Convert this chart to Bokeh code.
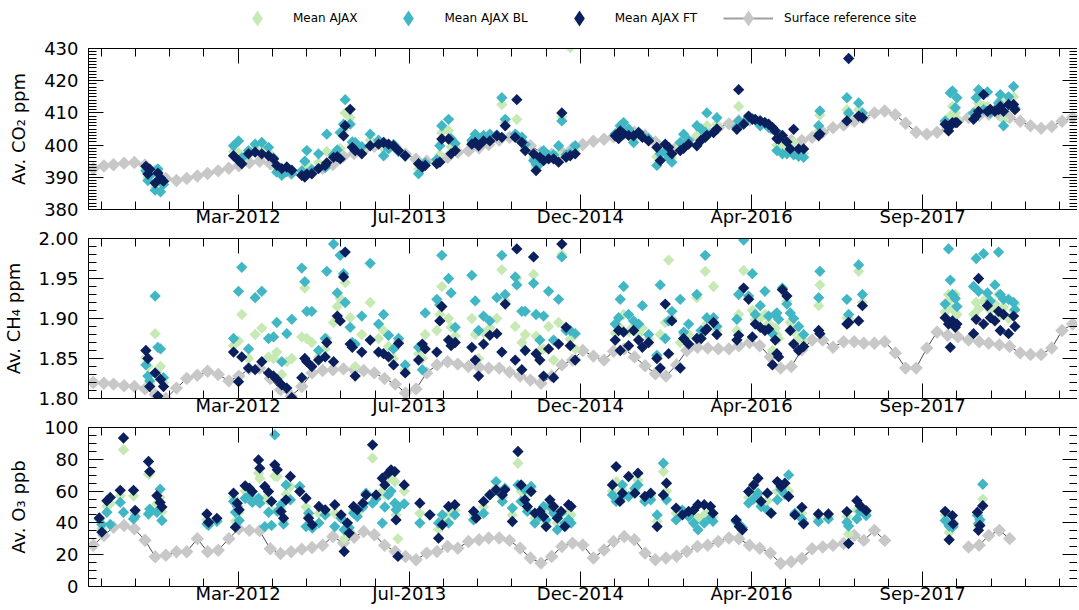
import numpy as np
import pandas as pd
from bokeh.plotting import figure
from bokeh.layouts import column
from bokeh.models import (Range1d, FixedTicker, LinearAxis, DatetimeTickFormatter,
                          PrintfTickFormatter, BasicTickFormatter, Legend, LegendItem)
from bokeh.embed import file_html
from bokeh.resources import INLINE

# ---------------- data (decimal years) ----------------
pic_dates = [
    2011.459, 2011.475, 2011.490, 2011.533, 2011.555, 2011.576, 2011.600,
    2012.160, 2012.200, 2012.226, 2012.280, 2012.333, 2012.386, 2012.440, 2012.480, 2012.506, 2012.546, 2012.586, 2012.626,
    2012.706, 2012.730, 2012.746, 2012.786, 2012.840, 2012.893, 2012.906,
    2012.960, 2012.990, 2013.013, 2013.040, 2013.053, 2013.093, 2013.110, 2013.133, 2013.186, 2013.253, 2013.320, 2013.360, 2013.400, 2013.440, 2013.480, 2013.533,
    2013.640, 2013.670, 2013.693, 2013.786, 2013.810, 2013.826, 2013.880, 2013.900, 2013.933,
    2014.066, 2014.093, 2014.120, 2014.160, 2014.210, 2014.266, 2014.306, 2014.333, 2014.413, 2014.426, 2014.466, 2014.493, 2014.560, 2014.580, 2014.610, 2014.640, 2014.680, 2014.720, 2014.760, 2014.786, 2014.820, 2014.853, 2014.893,
    2015.213, 2015.240, 2015.253, 2015.280, 2015.320, 2015.360, 2015.400, 2015.430, 2015.480,
    2015.546, 2015.573, 2015.613, 2015.640, 2015.666, 2015.733, 2015.760, 2015.800, 2015.866, 2015.900, 2015.933, 2015.946, 2015.999, 2016.026,
    2016.186, 2016.200, 2016.240, 2016.280, 2016.310, 2016.333, 2016.373, 2016.410, 2016.440, 2016.470, 2016.493, 2016.506, 2016.520, 2016.550, 2016.586, 2016.613, 2016.640, 2016.680, 2016.720,
    2016.840, 2016.850, 2017.066, 2017.080, 2017.160, 2017.190,
    2017.852, 2017.879, 2017.893, 2017.910, 2017.933, 2017.946,
    2018.079, 2018.100, 2018.119, 2018.159, 2018.190, 2018.213, 2018.250, 2018.279, 2018.293, 2018.319, 2018.359, 2018.399, 2018.410]

co2_ft = [
    393.4, 391.0, 392.5, 388.2, 391.3, 389.8, 388.8,
    396.7, 395.2, 394.2, 397.3, 397.8, 397.3, 396.7, 395.7, 393.7, 392.7, 393.2, 392.2,
    390.6, 390.1, 391.0, 391.1, 392.7, 393.7, 394.5,
    396.2, 396.4, 395.7, 402.9, 406.0, 411.1, 399.3, 398.3, 397.3, 399.8, 400.3, 400.8, 400.3, 399.8, 398.3, 396.7,
    394.2, 393.2, 393.7, 394.2, 394.7, 401.9, 401.9, 397.3, 398.3,
    400.3, 400.8, 399.8, 401.3, 401.3, 402.9, 402.4, 406.0, 402.4, 414.1, 400.8, 398.3, 397.3, 392.1, 396.2, 395.2, 395.7, 395.7, 394.7, 410.0, 396.2, 396.7, 397.3,
    402.9, 402.0, 404.4, 403.5, 403.0, 402.9, 403.9, 402.4, 401.3,
    399.3, 395.2, 400.3, 399.3, 397.3, 398.3, 399.0, 400.3, 399.8, 401.5, 402.4, 403.0, 403.9, 405.0,
    404.9, 417.2, 406.5, 409.0, 408.0, 408.0, 407.5, 407.0, 406.5, 405.5, 404.4, 402.0, 401.9, 403.0, 401.0, 398.8, 404.9, 398.8, 398.8,
    402.9, 403.5, 407.5, 426.9, 409.0, 408.5,
    406.5, 404.4, 406.0, 407.0, 407.0, 407.0,
    408.0, 409.0, 410.5, 415.7, 410.5, 411.1, 410.5, 411.0, 412.0, 410.5, 412.6, 412.6, 411.0]

co2_bl = [
    392.0, 389.0, 390.5, 386.0, 392.6, 385.5, 387.8,
    399.8, 401.3, 396.0, 398.3, 400.3, 400.8, 399.3, 396.0, 391.6, 390.6, 391.8, 391.2,
    392.0, 395.0, 398.3, 392.4, 397.3, 393.0, 403.4,
    397.0, 398.5, 403.9, 406.5, 414.1, 406.5, 401.0, 400.8, 399.5, 403.4, 401.5, 396.7, 398.8, 400.2, 398.0, 396.5,
    391.1, 393.0, 394.5, 395.5, 399.8, 406.0, 408.0, 402.0, 400.5,
    401.5, 403.4, 402.0, 403.0, 403.4, 403.2, 414.7, 408.0, 403.4, 403.0, 402.5, 400.2, 395.2, 394.0, 394.2, 398.3, 396.8, 397.0, 399.8, 407.5, 397.0, 397.5, 399.8,
    403.5, 403.0, 406.0, 407.0, 405.0, 400.8, 404.0, 403.0, 402.0,
    393.7, 397.3, 398.0, 396.0, 394.7, 400.8, 403.4, 401.5, 406.0, 405.0, 404.0, 410.0, 404.0, 408.5,
    405.5, 407.5, 406.8, 408.5, 408.2, 407.8, 406.0, 407.0, 405.5, 405.0, 404.5, 398.3, 402.5, 397.3, 397.3, 398.0, 397.0, 396.5, 396.2,
    406.0, 410.6, 414.7, 410.0, 413.1, 410.0,
    407.5, 406.0, 416.2, 416.8, 411.6, 414.7,
    410.0, 414.7, 417.2, 411.0, 416.5, 410.0, 411.0, 413.1, 415.7, 406.0, 415.0, 418.2, 411.5]

co2_mean = [
    392.7, 390.0, 391.5, 387.1, 391.9, 387.6, 388.3,
    398.0, 397.6, 395.0, 397.8, 399.0, 398.5, 397.8, 395.8, 392.6, 391.6, 392.5, 391.7,
    391.2, 392.5, 394.0, 391.8, 394.5, 393.4, 398.0,
    396.6, 397.2, 399.0, 404.5, 410.0, 408.5, 400.0, 399.5, 398.3, 401.5, 400.8, 399.0, 399.6, 400.0, 398.2, 396.6,
    392.6, 393.1, 394.1, 394.8, 397.0, 403.8, 404.5, 399.5, 399.4,
    400.9, 402.0, 401.0, 402.2, 402.3, 403.0, 412.6, 407.0, 402.9, 408.0, 401.6, 399.2, 396.2, 393.0, 395.2, 396.5, 396.2, 396.3, 397.0, 408.8, 396.6, 430.3, 398.4,
    403.2, 402.5, 405.0, 405.0, 404.0, 401.8, 404.0, 402.7, 401.6,
    396.4, 396.2, 399.0, 397.6, 396.0, 399.5, 401.0, 400.9, 403.0, 403.0, 403.2, 406.0, 404.0, 406.5,
    405.2, 412.0, 406.6, 408.7, 408.1, 407.9, 406.8, 407.0, 406.0, 405.2, 404.4, 400.0, 402.2, 400.0, 399.0, 398.4, 401.0, 397.6, 397.5,
    404.2, 409.3, 411.0, 409.5, 411.0, 409.2,
    407.0, 405.2, 409.0, 412.0, 410.0, 408.2,
    409.0, 411.0, 413.0, 412.0, 412.0, 410.5, 410.8, 412.0, 414.0, 408.0, 413.8, 415.0, 411.2]

ch4_ft = [
    1.860, 1.850, 1.815, 1.832, 1.803, 1.824, 1.815,
    1.858, 1.821, 1.852, 1.838, 1.836, 1.846, 1.832, 1.828, 1.824, 1.817, 1.813, 1.801,
    1.826, 1.850, 1.846, 1.840, 1.848, 1.852, 1.870,
    1.846, 1.903, 1.897, 1.952, 1.983, 1.868, 1.864, 1.828, 1.858, 1.873, 1.858, 1.856, 1.852, 1.842, 1.869, 1.832,
    1.848, 1.868, 1.862, 1.858, 1.897, 1.915, 1.873, 1.866, 1.870,
    1.864, 1.848, 1.828, 1.868, 1.879, 1.881, 1.858, 1.918, 1.848, 1.987, 1.836, 1.860, 1.977, 1.856, 1.848, 1.828, 1.862, 1.826, 1.868, 1.993, 1.889, 1.866, 1.848,
    1.873, 1.885, 1.860, 1.883, 1.866, 1.885, 1.873, 1.864, 1.870,
    1.850, 1.838, 1.918, 1.856, 1.897, 1.838, 1.875, 1.868, 1.875, 1.875, 1.885, 1.887, 1.895, 1.880,
    1.873, 1.879, 1.938, 1.924, 1.877, 1.893, 1.889, 1.885, 1.887, 1.842, 1.873, 1.856, 1.852, 1.936, 1.928, 1.885, 1.868, 1.860, 1.865,
    1.885, 1.881, 1.893, 1.895, 1.897, 1.916,
    1.901, 1.893, 1.864, 1.897, 1.889, 1.893,
    1.881, 1.899, 1.950, 1.893, 1.916, 1.901, 1.897, 1.909, 1.885, 1.905, 1.881, 1.903, 1.890]

ch4_bl = [
    1.842, 1.828, 1.822, 1.928, 1.864, 1.862, 1.826,
    1.875, 1.934, 1.964, 1.862, 1.926, 1.934, 1.875, 1.877, 1.895, 1.846, 1.881, 1.899,
    1.963, 1.946, 1.909, 1.909, 1.860, 1.875, 1.959,
    1.993, 1.932, 1.979, 1.956, 1.920, 1.889, 1.870, 1.868, 1.903, 1.969, 1.893, 1.905, 1.879, 1.862, 1.875, 1.842,
    1.864, 1.836, 1.907, 1.924, 1.917, 1.979, 1.950, 1.932, 1.889,
    1.954, 1.922, 1.885, 1.903, 1.897, 1.926, 1.979, 1.930, 1.952, 1.942, 1.909, 1.909, 1.944, 1.905, 1.873, 1.903, 1.934, 1.873, 1.924, 1.977, 1.885, 1.885, 1.881,
    1.893, 1.901, 1.924, 1.940, 1.905, 1.897, 1.893, 1.916, 1.880,
    1.854, 1.942, 1.875, 1.897, 1.909, 1.924, 1.883, 1.893, 1.930, 1.885, 1.979, 1.901, 1.901, 1.890,
    1.899, 1.930, 1.998, 1.928, 1.956, 1.905, 1.916, 1.934, 1.903, 1.881, 1.905, 1.907, 1.899, 1.938, 1.918, 1.907, 1.900, 1.890, 1.880,
    1.926, 1.959, 1.924, 1.905, 1.967, 1.930,
    1.918, 1.987, 1.948, 1.930, 1.925, 1.915,
    1.940, 1.975, 1.934, 1.981, 1.932, 1.922, 1.942, 1.983, 1.930, 1.924, 1.924, 1.920, 1.911]

ch4_mean = [
    1.851, 1.840, 1.818, 1.881, 1.830, 1.840, 1.820,
    1.866, 1.872, 1.905, 1.850, 1.880, 1.888, 1.852, 1.850, 1.858, 1.830, 1.846, 1.850,
    1.877, 1.938, 1.875, 1.870, 1.852, 1.862, 1.875,
    1.895, 1.915, 1.925, 1.954, 1.945, 1.901, 1.866, 1.840, 1.880, 1.920, 1.875, 1.885, 1.865, 1.850, 1.872, 1.836,
    1.856, 1.850, 1.880, 1.885, 1.905, 1.940, 1.900, 1.889, 1.878,
    1.900, 1.880, 1.850, 1.882, 1.888, 1.900, 1.961, 1.922, 1.890, 1.950, 1.870, 1.880, 1.955, 1.878, 1.860, 1.862, 1.890, 1.848, 1.895, 1.980, 1.887, 1.874, 1.862,
    1.882, 1.890, 1.888, 1.905, 1.884, 1.890, 1.880, 1.888, 1.875,
    1.852, 1.880, 1.895, 1.973, 1.900, 1.870, 1.880, 1.880, 1.926, 1.880, 1.959, 1.893, 1.940, 1.885,
    1.885, 1.905, 1.960, 1.926, 1.910, 1.898, 1.900, 1.905, 1.894, 1.860, 1.888, 1.880, 1.875, 1.937, 1.922, 1.895, 1.884, 1.875, 1.872,
    1.916, 1.942, 1.901, 1.900, 1.959, 1.920,
    1.908, 1.930, 1.924, 1.912, 1.930, 1.905,
    1.905, 1.920, 1.912, 1.922, 1.925, 1.910, 1.918, 1.930, 1.905, 1.914, 1.900, 1.910, 1.918]

o3_dates = [
    2011.086, 2011.107, 2011.147, 2011.174, 2011.254, 2011.280, 2011.360, 2011.373, 2011.480, 2011.490, 2011.547, 2011.573, 2011.587,
    2011.947, 2011.960, 2012.027,
    2012.160, 2012.175, 2012.190, 2012.205, 2012.253, 2012.287, 2012.310, 2012.360, 2012.370, 2012.410, 2012.440, 2012.464, 2012.490,
    2012.510, 2012.540, 2012.560, 2012.580, 2012.615, 2012.690, 2012.740, 2012.760, 2012.790, 2012.843, 2012.893, 2012.970,
    2013.020, 2013.045, 2013.070, 2013.085, 2013.120, 2013.150, 2013.195, 2013.220, 2013.272, 2013.300, 2013.350, 2013.370,
    2013.398, 2013.420, 2013.450, 2013.460, 2013.475, 2013.525,
    2013.650, 2013.730, 2013.800, 2013.830, 2013.880, 2013.930,
    2014.080, 2014.100, 2014.160, 2014.210, 2014.260, 2014.310, 2014.330, 2014.390, 2014.435, 2014.460, 2014.490, 2014.510,
    2014.540, 2014.570, 2014.610, 2014.640, 2014.660, 2014.690, 2014.720, 2014.750, 2014.780, 2014.810, 2014.840, 2014.860,
    2015.190, 2015.220, 2015.250, 2015.270, 2015.320, 2015.370, 2015.395, 2015.450, 2015.497, 2015.548, 2015.598, 2015.623,
    2015.700, 2015.750, 2015.800, 2015.840, 2015.875, 2015.925, 2015.975, 2015.995,
    2016.180, 2016.205, 2016.230, 2016.280, 2016.320, 2016.355, 2016.380, 2016.430, 2016.460, 2016.510, 2016.540, 2016.570,
    2016.600, 2016.650, 2016.706, 2016.719,
    2016.838, 2016.918, 2017.066, 2017.079, 2017.146, 2017.172, 2017.220,
    2017.852, 2017.884, 2017.910, 2017.916, 2018.110, 2018.118, 2018.130, 2018.153]

o3_ft = [
    43.1, 34.2, 53.9, 56.0, 60.5, 93.4, 60.5, 47.9, 78.6, 72.3, 57.1, 52.9, 50.0,
    45.6, 40.4, 42.9,
    58.7, 37.3, 52.4, 48.2, 63.3, 61.8, 59.7, 79.6, 74.4, 62.9, 59.7, 53.5, 76.5,
    73.4, 47.2, 43.0, 54.5, 69.2, 59.7, 55.5, 43.0, 38.8, 50.3, 48.2, 51.4,
    45.1, 22.0, 39.9, 33.6, 50.3, 48.2, 52.4, 57.6, 89.1, 57.6, 68.1, 63.9,
    71.3, 73.4, 72.3, 41.9, 18.9, 63.9,
    52.4, 45.1, 30.4, 38.8, 50.3, 51.4,
    47.2, 43.0, 53.5, 57.6, 60.8, 57.6, 60.8, 40.9, 84.9, 63.9, 54.5, 50.3,
    59.7, 46.1, 47.2, 44.0, 37.7, 54.5, 50.3, 43.0, 47.2, 37.7, 51.4, 50.3,
    63.9, 75.4, 53.5, 58.7, 69.2, 58.7, 71.3, 56.6, 58.7, 37.7, 57.6, 65.0,
    49.3, 45.0, 47.2, 48.0, 51.4, 51.4, 50.3, 46.1,
    41.9, 37.7, 35.7, 59.7, 63.9, 68.1, 53.5, 58.7, 46.1, 66.0, 62.9, 65.0,
    56.6, 45.0, 49.8, 39.4,
    45.6, 45.6, 47.1, 27.0, 54.0, 50.8, 47.7,
    47.3, 29.4, 44.6, 39.4, 46.7, 35.3, 38.4, 50.8]

o3_bl = [
    42.5, 39.0, 46.7, 39.0, 52.9, 46.7, 42.5, 44.0, 45.6, 48.7, 46.7, 61.2, 41.5,
    39.3, 38.5, 41.0,
    53.5, 46.7, 50.3, 41.5, 55.5, 57.0, 52.9, 55.5, 52.4, 37.7, 46.7, 38.4, 95.4,
    47.2, 51.4, 39.3, 63.9, 54.5, 62.9, 37.7, 46.1, 36.7, 39.9, 45.0, 37.7,
    43.0, 35.7, 39.9, 37.0, 46.1, 44.0, 50.0, 58.7, 52.4, 55.0, 39.9, 50.0,
    57.6, 60.0, 52.4, 48.2, 50.3, 52.0,
    39.9, 45.1, 40.0, 45.1, 39.9, 45.1,
    41.9, 45.1, 46.0, 57.6, 66.0, 53.5, 61.8, 49.3, 63.9, 53.5, 60.8, 47.2,
    62.9, 39.9, 44.0, 50.3, 41.9, 50.3, 46.0, 35.7, 46.1, 39.9, 42.0, 39.9,
    57.6, 53.5, 55.0, 63.9, 56.6, 61.8, 63.9, 53.5, 54.5, 45.0, 77.5, 54.5,
    41.9, 48.0, 44.0, 39.9, 35.7, 39.9, 43.0, 41.0,
    40.9, 39.0, 37.0, 52.4, 55.0, 58.7, 50.3, 48.0, 46.0, 54.5, 60.8, 58.0,
    70.2, 46.1, 42.5, 40.0,
    40.9, 42.5, 40.4, 38.0, 42.5, 47.3, 44.6,
    41.5, 38.0, 37.3, 38.0, 44.6, 39.4, 42.0, 64.3]

o3_mean = [
    42.8, 36.5, 50.5, 52.0, 57.0, 86.0, 57.0, 46.0, 70.5, 71.0, 52.0, 56.0, 47.0,
    42.0, 39.5, 42.0,
    56.0, 41.0, 51.0, 46.7, 60.0, 59.0, 56.0, 71.3, 68.0, 55.0, 54.0, 48.0, 69.5,
    69.2, 49.0, 41.0, 58.0, 63.0, 60.0, 50.0, 44.0, 38.0, 46.0, 47.0, 46.0,
    44.0, 30.0, 39.9, 35.0, 48.0, 46.0, 51.0, 58.0, 80.7, 56.0, 60.0, 58.0,
    68.1, 70.0, 66.0, 45.0, 30.0, 60.0,
    46.0, 45.1, 36.0, 42.0, 45.0, 48.0,
    45.0, 44.0, 50.0, 57.6, 62.0, 56.0, 61.0, 45.0, 77.5, 60.0, 57.0, 49.0,
    61.0, 43.0, 45.5, 47.0, 40.0, 52.0, 48.0, 40.0, 46.5, 38.5, 47.0, 45.0,
    60.0, 66.0, 54.0, 61.0, 69.2, 60.0, 67.0, 55.0, 57.0, 41.0, 72.3, 60.0,
    46.0, 46.5, 45.0, 44.0, 43.0, 45.0, 47.0, 43.5,
    41.5, 38.0, 36.0, 56.0, 60.0, 57.6, 52.0, 54.0, 46.0, 60.0, 62.0, 62.0,
    60.0, 45.5, 46.0, 40.0,
    43.0, 44.0, 44.0, 33.0, 48.0, 49.0, 46.0,
    45.0, 34.0, 41.0, 39.0, 46.0, 38.0, 40.0, 55.0]

# surface reference site, monthly means Jan-2011 .. Dec-2018
ref_start = "2011-01-01"
ref_co2 = [
    392.7, 393.5, 393.9, 394.4, 394.6, 393.8, 392.0, 389.6, 389.0, 389.6, 390.4, 391.2,
    392.0, 392.8, 393.6, 394.5, 395.0, 394.2, 392.6, 391.2, 390.8, 391.4, 392.8, 394.0,
    396.5, 397.4, 398.4, 399.6, 400.4, 399.4, 397.2, 395.6, 395.0, 395.4, 396.2, 397.8,
    398.2, 399.2, 400.2, 401.6, 402.4, 401.6, 399.8, 397.8, 397.2, 397.8, 399.0, 400.2,
    401.2, 401.8, 402.6, 403.6, 404.0, 403.0, 401.0, 399.6, 399.4, 400.6, 402.4, 404.2,
    405.4, 406.6, 407.6, 407.8, 407.4, 405.4, 402.8, 401.4, 401.4, 402.4, 404.0, 405.4,
    406.2, 407.4, 408.6, 410.0, 410.6, 409.4, 406.8, 404.0, 403.4, 404.0, 405.4, 407.6,
    408.6, 409.2, 409.6, 409.4, 408.6, 407.4, 406.0, 405.2, 405.8, 407.4, 408.6, 409.2]
ref_ch4 = [
    1.820, 1.819, 1.818, 1.816, 1.815, 1.812, 1.805, 1.800, 1.813, 1.825, 1.829, 1.834,
    1.830, 1.822, 1.828, 1.837, 1.838, 1.825, 1.811, 1.803, 1.815, 1.832, 1.835, 1.836,
    1.837, 1.836, 1.835, 1.832, 1.825, 1.818, 1.807, 1.812, 1.832, 1.842, 1.846, 1.843,
    1.840, 1.839, 1.838, 1.838, 1.833, 1.828, 1.823, 1.819, 1.828, 1.842, 1.848, 1.860,
    1.853, 1.848, 1.859, 1.862, 1.852, 1.841, 1.831, 1.828, 1.842, 1.860, 1.864, 1.863,
    1.862, 1.862, 1.866, 1.870, 1.866, 1.852, 1.838, 1.840, 1.861, 1.873, 1.873, 1.864,
    1.871, 1.871, 1.869, 1.869, 1.871, 1.857, 1.838, 1.838, 1.863, 1.883, 1.879, 1.877,
    1.873, 1.871, 1.869, 1.867, 1.865, 1.857, 1.855, 1.855, 1.863, 1.885, 1.893, 1.891]
ref_o3 = [
    25.9, 32.1, 37.3, 38.4, 36.3, 29.1, 18.7, 19.7, 21.8, 21.8, 30.1, 21.8,
    22.8, 30.1, 36.3, 35.3, 35.0, 23.8, 20.7, 21.8, 23.5, 24.5, 26.0, 31.5,
    27.3, 31.0, 34.6, 32.5, 26.0, 22.0, 18.9, 16.8, 21.0, 22.0, 25.2, 24.1,
    28.3, 29.4, 30.5, 30.5, 29.0, 24.0, 17.9, 14.7, 18.9, 25.2, 27.3, 26.1,
    17.9, 23.0, 28.3, 31.5, 29.4, 21.0, 16.8, 17.9, 19.0, 22.0, 25.2, 26.0,
    28.3, 30.5, 30.0, 26.0, 24.1, 21.0, 14.5, 15.6, 17.6, 23.8, 24.9, 25.9,
    27.0, 32.1, 29.0, 35.3, 29.0, None, None, None, None, None, None, None,
    24.9, 25.9, 32.1, 35.3, 30.1, None, None, None, None, None, None, None]

# x-axis ticks: first labelled tick and spacing in days
first_major = "2012-03-13"
major_step_days = 500
minor_step_days = 100

# ---------------- helpers ----------------
GREEN, TEAL, NAVY, GRAY, LINE = "#c7e9b4", "#41b6c4", "#0a1f5c", "#c8c8c8", "#4a4a4a"
FONT = "DejaVu Sans"
PX_PER_DAY = 0.3423


def to_dt(dec):
    base = pd.Timestamp("2011-01-01")
    return np.array([base + pd.Timedelta(days=(d - 2011.0) * 365.25) for d in dec], dtype="datetime64[ns]")


def ms(ts):
    return pd.Timestamp(ts).value / 1e6


FRAME_W = 989
LEFT = 88
ref_dates = (pd.date_range(ref_start, periods=len(ref_co2), freq="MS") + pd.Timedelta(days=14)).values
x_start = pd.Timestamp("2011-01-01")
x_end = x_start + pd.Timedelta(days=FRAME_W / PX_PER_DAY)
maj = [pd.Timestamp(first_major) + pd.Timedelta(days=major_step_days * k) for k in range(-1, 6)]
mnr = [pd.Timestamp(first_major) + pd.Timedelta(days=minor_step_days * k) for k in range(-5, 30)]
maj_ms = [ms(t) for t in maj if x_start <= t <= x_end]
mnr_ms = [ms(t) for t in mnr if x_start <= t <= x_end]


def style_axis(ax, show_labels=True, spine=True):
    ax.axis_line_color = "black" if spine else None
    ax.axis_line_width = 1
    ax.major_tick_line_color = "black"
    ax.minor_tick_line_color = "black"
    ax.major_tick_in, ax.major_tick_out = 15, 0
    ax.minor_tick_in, ax.minor_tick_out = 8, 0
    ax.major_label_text_font = FONT
    if show_labels:
        ax.major_label_text_font_size = "18px"
        ax.major_label_text_color = "black"
    else:
        ax.major_label_text_font_size = "1px"
        ax.major_label_text_color = None
        ax.major_label_standoff = 0


def panel(ylabel, yrange, ymajor, yminor, yfmt, lab_standoff, dates, mean, bl, ft, ref,
          top_border, frame_h):
    p = figure(frame_width=FRAME_W, frame_height=frame_h,
               x_range=Range1d(ms(x_start), ms(x_end)), y_range=Range1d(*yrange),
               x_axis_type=None, y_axis_type=None, toolbar_location=None, output_backend="svg",
               min_border_left=LEFT, min_border_right=0, min_border_top=top_border, min_border_bottom=0,
               outline_line_color=None, background_fill_color="white", border_fill_color="white")
    xt = FixedTicker(ticks=maj_ms, minor_ticks=mnr_ms)
    xf = DatetimeTickFormatter(days="%b-%Y", months="%b-%Y", years="%b-%Y")
    xb = LinearAxis(ticker=xt, formatter=xf)
    style_axis(xb)
    xb.major_label_standoff = -4
    xa = LinearAxis(ticker=xt, formatter=xf)
    style_axis(xa, False)
    yt = FixedTicker(ticks=ymajor, minor_ticks=yminor)
    yl = LinearAxis(ticker=yt, formatter=yfmt, axis_label=ylabel)
    style_axis(yl)
    yl.major_label_standoff = 10
    yl.axis_label_text_font = FONT
    yl.axis_label_text_font_size = "18px"
    yl.axis_label_text_font_style = "normal"
    yl.axis_label_text_color = "black"
    yl.axis_label_standoff = lab_standoff
    yr = LinearAxis(ticker=yt, formatter=yfmt)
    style_axis(yr, False, spine=False)
    p.add_layout(xb, "below")
    p.add_layout(xa, "above")
    p.add_layout(yl, "left")
    p.add_layout(yr, "right")

    rv = np.array([np.nan if v is None else v for v in ref], dtype=float)
    p.line(ref_dates, rv, line_color=LINE, line_width=1)
    p.scatter(ref_dates, rv, marker="square", angle=np.pi / 4, size=9.5, fill_color=GRAY, line_color=None)
    dts = to_dt(dates)
    p.scatter(dts, mean, marker="square", angle=np.pi / 4, size=8, fill_color=GREEN, line_color=None)
    p.scatter(dts, bl, marker="square", angle=np.pi / 4, size=8, fill_color=TEAL, line_color=None)
    p.scatter(dts, ft, marker="square", angle=np.pi / 4, size=8, fill_color=NAVY, line_color=None)
    return p


co2_major = [380, 390, 400, 410, 420, 430]
co2_minor = list(range(380, 431))
ch4_major = [1.80, 1.85, 1.90, 1.95, 2.00]
ch4_minor = [round(1.80 + 0.01 * i, 2) for i in range(21)]
o3_major = [0, 20, 40, 60, 80, 100]
o3_minor = list(range(0, 101, 5))

H1, H2, H3 = 161, 160, 159
p1 = panel("Av. CO\u2082 ppm", (380, 430), co2_major, co2_minor, BasicTickFormatter(), 12,
           pic_dates, co2_mean, co2_bl, co2_ft, ref_co2, 12, H1)
p2 = panel("Av. CH\u2084 ppm", (1.80, 2.00), ch4_major, ch4_minor, PrintfTickFormatter(format="%.2f"), 11,
           pic_dates, ch4_mean, ch4_bl, ch4_ft, ref_ch4, 9, H2)
p3 = panel("Av. O\u2083 ppb", (0, 100), o3_major, o3_minor, BasicTickFormatter(), 12,
           o3_dates, o3_mean, o3_bl, o3_ft, ref_o3, 9, H3)

# ---------------- legend strip ----------------
# A strip above the panels; its glyph renderers carry the CO2 series but lie outside the
# strip's ranges, so only their legend entries are seen.
LEG_H = 36
pl = figure(frame_width=FRAME_W, frame_height=LEG_H, x_range=Range1d(0, 1), y_range=Range1d(0, 1),
            x_axis_type=None, y_axis_type=None, toolbar_location=None, output_backend="svg",
            min_border_left=LEFT, min_border_right=0, min_border_top=0, min_border_bottom=0,
            outline_line_color=None, background_fill_color="white", border_fill_color="white")
pic_dt = to_dt(pic_dates)
ref_arr = np.array(ref_co2, dtype=float)
lg_g = pl.scatter(pic_dt, co2_mean, marker="diamond", size=14, fill_color=GREEN, line_color=None)
lg_t = pl.scatter(pic_dt, co2_bl, marker="diamond", size=14, fill_color=TEAL, line_color=None)
lg_n = pl.scatter(pic_dt, co2_ft, marker="diamond", size=14, fill_color=NAVY, line_color=None)
lg_rl = pl.line(ref_dates, ref_arr, line_color="#a0a0a0", line_width=2)
lg_rs = pl.scatter(ref_dates, ref_arr, marker="diamond", size=14, fill_color=GRAY, line_color=None)

legend = Legend(items=[LegendItem(label="Mean AJAX", renderers=[lg_g]),
                       LegendItem(label="Mean AJAX BL", renderers=[lg_t]),
                       LegendItem(label="Mean AJAX FT", renderers=[lg_n]),
                       LegendItem(label="Surface reference site", renderers=[lg_rl, lg_rs])],
                location=(144, -2), orientation="horizontal",
                glyph_width=50, glyph_height=40, label_standoff=11, spacing=26,
                padding=0, margin=0, label_text_font=FONT, label_text_font_size="12px",
                label_text_color="black", border_line_color=None, background_fill_alpha=0)
pl.add_layout(legend)

layout = column(pl, p1, p2, p3, spacing=0)
open("out.html", "w").write(file_html(layout, INLINE))
